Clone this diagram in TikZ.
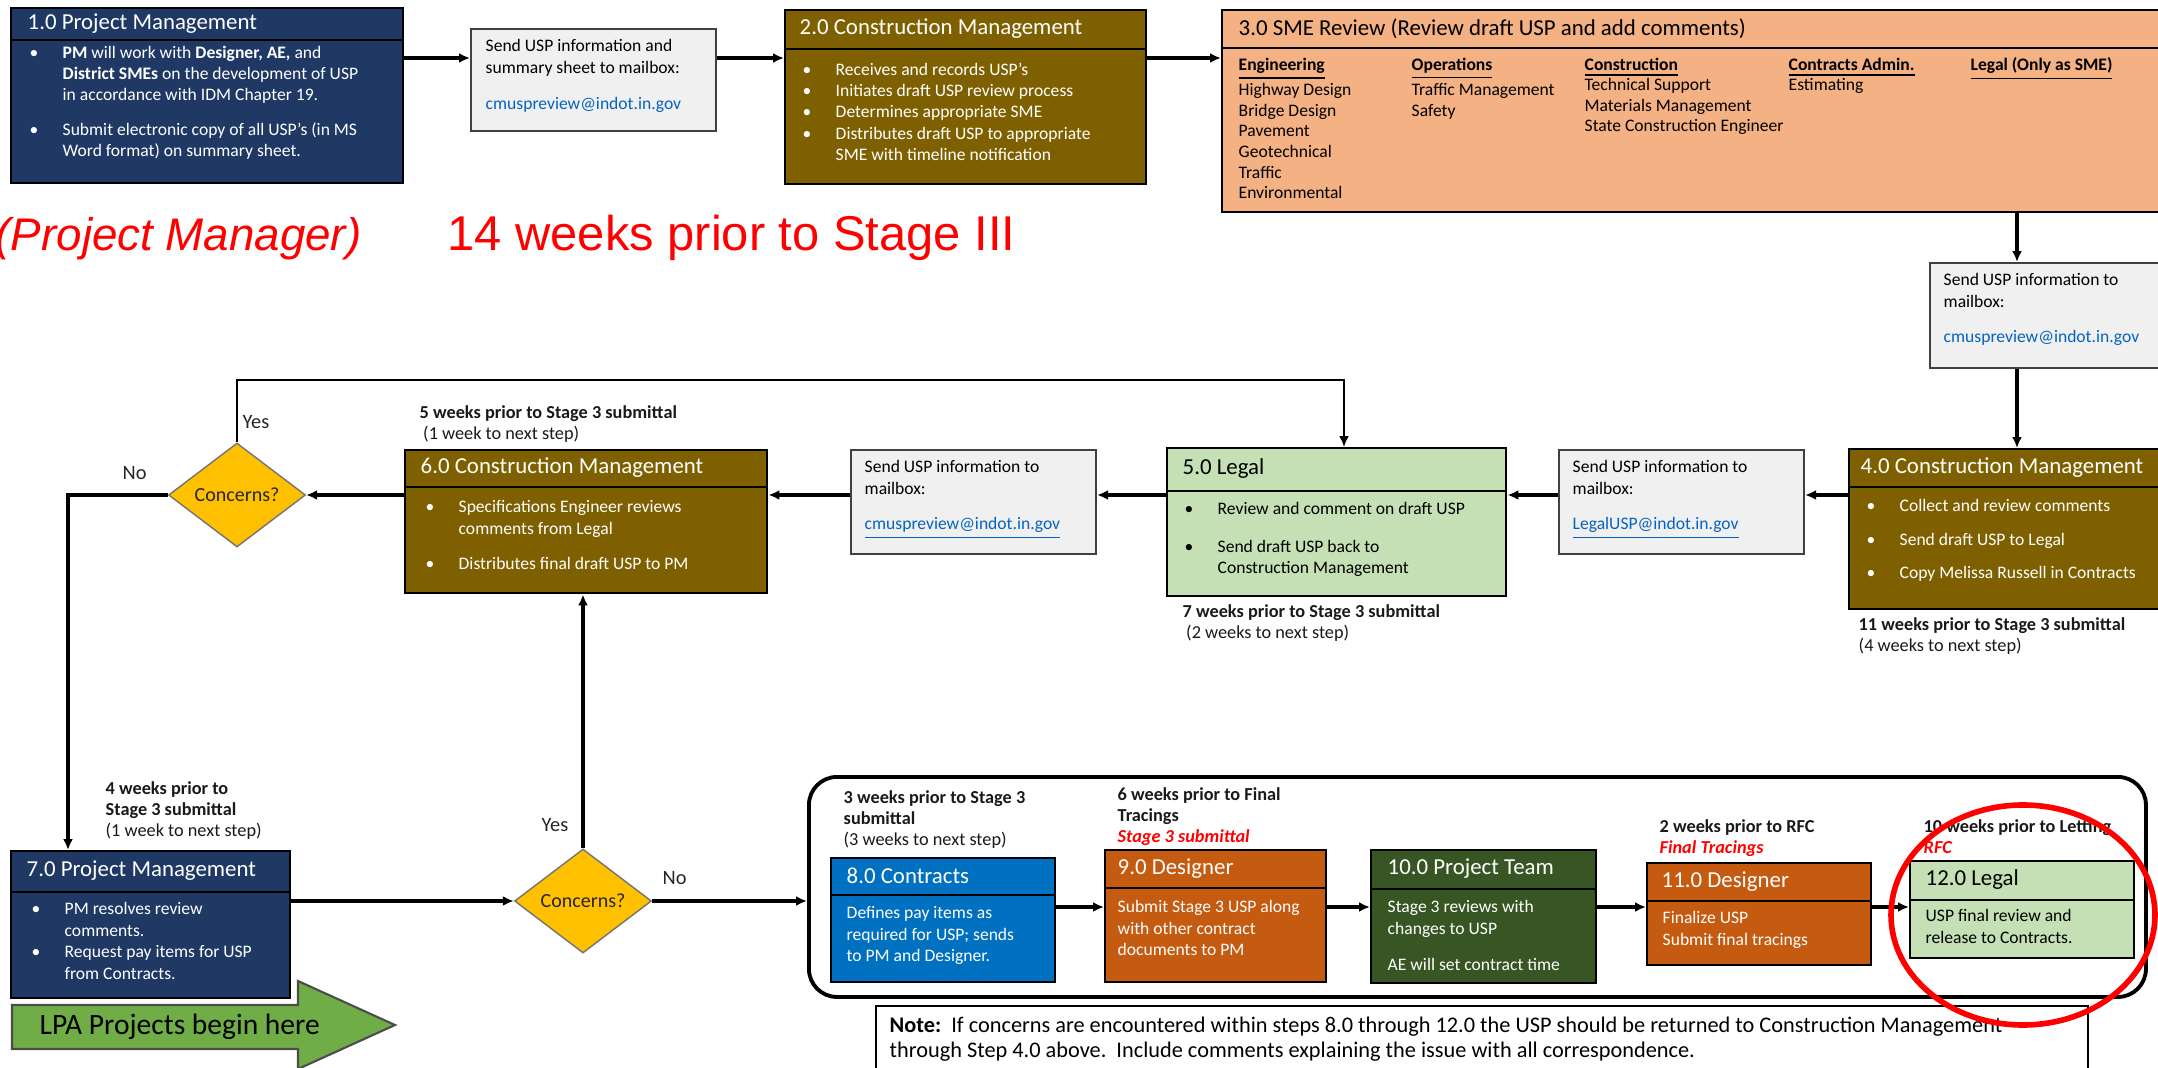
\documentclass[tikz,border=0pt]{standalone}
\usepackage{fontspec}
\setmainfont{Carlito}
\newfontfamily\redfont{Liberation Sans}
\usetikzlibrary{positioning,shapes.geometric,arrows.meta}

\definecolor{navy}{HTML}{1F3864}
\definecolor{cmbrown}{HTML}{7F6000}
\definecolor{smesalmon}{HTML}{F4B183}
\definecolor{mailgray}{HTML}{F0F0F0}
\definecolor{legalgreen}{HTML}{C5E0B4}
\definecolor{decyellow}{HTML}{FFC000}
\definecolor{ctrblue}{HTML}{0070C0}
\definecolor{dsgorange}{HTML}{C55A11}
\definecolor{teamgreen}{HTML}{375623}
\definecolor{lpagreen}{HTML}{70AD47}
\definecolor{linkblue}{HTML}{0563C1}

\newcommand{\bitem}{\makebox[0.33cm][l]{\textbullet}}
\newcommand{\bhang}{\hspace*{0.33cm}}

\tikzset{
    stepbox/.style = {draw = black, line width = 0.7pt, anchor = north west, inner sep = 0pt},
    mailbox/.style = {draw = black!75, fill = mailgray, line width = 0.6pt, anchor = north west, inner sep = 0pt},
    stagebox/.style = {draw = black, line width = 1.1pt, rounded corners = 0.28cm, anchor = north west, inner sep = 0pt},
    notebox/.style = {draw = black, line width = 0.6pt, fill = white, anchor = north west, inner sep = 0pt},
    decide/.style = {diamond, aspect = 1.3, fill = decyellow, draw = black!55, line width = 0.4pt,
        minimum width = 1.37cm, minimum height = 1.04cm, inner sep = 0pt,
        font = \fontsize{5.7}{6.5}\selectfont, text = black!85},
    hd/.style = {anchor = west, inner sep = 0pt, font = \fontsize{6.5}{7.5}\selectfont},
    txt/.style = {anchor = north west, inner sep = 0pt, align = left, font = \fontsize{5}{6.1}\selectfont},
    smecol/.style = {txt, font = \fontsize{5}{5.85}\selectfont},
    lead/.style = {anchor = north west, inner sep = 0pt, align = left, font = \fontsize{5.2}{6}\selectfont, text = black!90},
    yesno/.style = {anchor = west, inner sep = 0pt, font = \fontsize{5.8}{7}\selectfont, text = black!85},
    flow/.style = {-{Latex[length = 0.11cm, width = 0.1cm]}, line width = 1pt},
}

\begin{document}
\begin{tikzpicture}
    \useasboundingbox (0, 0) rectangle (21.58, -10.68);
    \clip (0, 0) rectangle (21.58, -10.68);

    \draw
        (0.10, -0.07)  node (pm1)     [stepbox, fill = navy, minimum width = 3.92cm, minimum height = 1.75cm] {}
        (4.70, -0.28)  node (mailA)   [mailbox, minimum width = 2.45cm, minimum height = 1.02cm] {}
        (7.84, -0.09)  node (cm2)     [stepbox, fill = cmbrown, minimum width = 3.61cm, minimum height = 1.74cm] {}
        (12.21, -0.09) node (sme3)    [stepbox, fill = smesalmon, minimum width = 9.60cm, minimum height = 2.02cm] {}
        (19.29, -2.62) node (mailB)   [mailbox, minimum width = 2.50cm, minimum height = 1.05cm] {}
        (18.48, -4.48) node (cm4)     [stepbox, fill = cmbrown, minimum width = 3.30cm, minimum height = 1.60cm] {}
        (15.58, -4.49) node (mailC)   [mailbox, minimum width = 2.45cm, minimum height = 1.04cm] {}
        (11.66, -4.47) node (legal5)  [stepbox, fill = legalgreen, minimum width = 3.39cm, minimum height = 1.48cm] {}
        (8.50, -4.49)  node (mailD)   [mailbox, minimum width = 2.45cm, minimum height = 1.04cm] {}
        (4.04, -4.49)  node (cm6)     [stepbox, fill = cmbrown, minimum width = 3.62cm, minimum height = 1.43cm] {}
        (2.37, -4.95)  node (ask1)    [decide] {Concerns?}
        (0.10, -8.50)  node (pm7)     [stepbox, fill = navy, minimum width = 2.79cm, minimum height = 1.47cm] {}
        (5.83, -9.01)  node (ask2)    [decide] {Concerns?}
        (8.07, -7.75)  node (stage)   [stagebox, minimum width = 13.37cm, minimum height = 2.20cm] {}
        (8.30, -8.57)  node (ctr8)    [stepbox, fill = ctrblue, minimum width = 2.24cm, minimum height = 1.24cm] {}
        (11.04, -8.49) node (dsg9)    [stepbox, fill = dsgorange, minimum width = 2.21cm, minimum height = 1.32cm] {}
        (13.70, -8.49) node (team10)  [stepbox, fill = teamgreen, minimum width = 2.25cm, minimum height = 1.33cm] {}
        (16.46, -8.62) node (dsg11)   [stepbox, fill = dsgorange, minimum width = 2.24cm, minimum height = 1.02cm] {}
        (19.09, -8.60) node (legal12) [stepbox, fill = legalgreen, minimum width = 2.24cm, minimum height = 0.97cm] {}
        (8.75, -10.05) node (note)    [notebox, minimum width = 12.12cm, minimum height = 0.90cm] {}
    ;

    % title bands
    \draw[line width = 0.7pt]
        ([yshift = -0.33cm]pm1.north west)     -- ([yshift = -0.33cm]pm1.north east)
        ([yshift = -0.40cm]cm2.north west)     -- ([yshift = -0.40cm]cm2.north east)
        ([yshift = -0.39cm]sme3.north west)    -- ([yshift = -0.39cm]sme3.north east)
        ([yshift = -0.39cm]cm4.north west)     -- ([yshift = -0.39cm]cm4.north east)
        ([yshift = -0.44cm]legal5.north west)  -- ([yshift = -0.44cm]legal5.north east)
        ([yshift = -0.38cm]cm6.north west)     -- ([yshift = -0.38cm]cm6.north east)
        ([yshift = -0.42cm]pm7.north west)     -- ([yshift = -0.42cm]pm7.north east)
        ([yshift = -0.38cm]ctr8.north west)    -- ([yshift = -0.38cm]ctr8.north east)
        ([yshift = -0.39cm]dsg9.north west)    -- ([yshift = -0.39cm]dsg9.north east)
        ([yshift = -0.40cm]team10.north west)  -- ([yshift = -0.40cm]team10.north east)
        ([yshift = -0.39cm]dsg11.north west)   -- ([yshift = -0.39cm]dsg11.north east)
        ([yshift = -0.40cm]legal12.north west) -- ([yshift = -0.40cm]legal12.north east)
    ;

    \path
        (0.27, -0.235)  node (pm1t)     [hd, text = white] {1.0 Project Management}
        (7.99, -0.29)   node (cm2t)     [hd, text = white] {2.0 Construction Management}
        (12.38, -0.285) node (sme3t)    [hd] {3.0 SME Review (Review draft USP and add comments)}
        (18.60, -4.68)  node (cm4t)     [hd, text = white] {4.0 Construction Management}
        (11.82, -4.69)  node (legal5t)  [hd] {5.0 Legal}
        (4.20, -4.68)   node (cm6t)     [hd, text = white] {6.0 Construction Management}
        (0.26, -8.71)   node (pm7t)     [hd, text = white] {7.0 Project Management}
        (8.46, -8.76)   node (ctr8t)    [hd, text = white] {8.0 Contracts}
        (11.17, -8.685) node (dsg9t)    [hd, text = white] {9.0 Designer}
        (13.87, -8.69)  node (team10t)  [hd, text = white] {10.0 Project Team}
        (16.61, -8.815) node (dsg11t)   [hd, text = white] {11.0 Designer}
        (19.25, -8.80)  node (legal12t) [hd] {12.0 Legal}
    ;

    \path
        (0.29, -0.45) node (pm1b) [txt, text = white]
            {\bitem\textbf{PM} will work with \textbf{Designer, AE,} and\\
             \bhang\textbf{District SMEs} on the development of USP\\
             \bhang in accordance with IDM Chapter 19.\\[3.7pt]
             \bitem Submit electronic copy of all USP's (in MS\\
             \bhang Word format) on summary sheet.}
        (4.85, -0.39) node (mailAb) [txt]
            {Send USP information and\\summary sheet to mailbox:\\[4.3pt]
             \textcolor{linkblue}{cmuspreview@indot.in.gov}}
        (8.02, -0.62) node (cm2b) [txt, text = white]
            {\bitem Receives and records USP's\\
             \bitem Initiates draft USP review process\\
             \bitem Determines appropriate SME\\
             \bitem Distributes draft USP to appropriate\\
             \bhang SME with timeline notification}
        (12.38, -0.57) node (col1) [smecol]
            {\underline{\textbf{Engineering}}\\Highway Design\\Bridge Design\\Pavement\\Geotechnical\\Traffic\\Environmental}
        (14.11, -0.57) node (col2) [smecol]
            {\underline{\textbf{Operations}}\\Traffic Management\\Safety}
        (15.84, -0.57) node (col3) [smecol]
            {\underline{\textbf{Construction}}\\Technical Support\\Materials Management\\State Construction Engineer}
        (17.88, -0.57) node (col4) [smecol]
            {\underline{\textbf{Contracts Admin.}}\\Estimating}
        (19.70, -0.57) node (col5) [smecol]
            {\underline{\textbf{Legal (Only as SME)}}}
        (19.43, -2.73) node (mailBb) [txt]
            {Send USP information to\\mailbox:\\[4pt]
             \textcolor{linkblue}{cmuspreview@indot.in.gov}}
        (18.66, -4.99) node (cm4b) [txt, text = white]
            {\bitem Collect and review comments\\[3.4pt]
             \bitem Send draft USP to Legal\\[3.4pt]
             \bitem Copy Melissa Russell in Contracts}
        (15.72, -4.60) node (mailCb) [txt]
            {Send USP information to\\mailbox:\\[4pt]
             \textcolor{linkblue}{\underline{LegalUSP@indot.in.gov}}}
        (11.84, -5.02) node (legal5b) [txt]
            {\bitem Review and comment on draft USP\\[4.5pt]
             \bitem Send draft USP back to\\
             \bhang Construction Management}
        (8.64, -4.60) node (mailDb) [txt]
            {Send USP information to\\mailbox:\\[4pt]
             \textcolor{linkblue}{\underline{cmuspreview@indot.in.gov}}}
        (4.25, -5.00) node (cm6b) [txt, text = white]
            {\bitem Specifications Engineer reviews\\
             \bhang comments from Legal\\[4pt]
             \bitem Distributes final draft USP to PM}
        (0.31, -9.02) node (pm7b) [txt, text = white]
            {\bitem PM resolves review\\
             \bhang comments.\\
             \bitem Request pay items for USP\\
             \bhang from Contracts.}
        (8.46, -9.06) node (ctr8b) [txt, text = white]
            {Defines pay items as\\required for USP; sends\\to PM and Designer.}
        (11.17, -9.00) node (dsg9b) [txt, text = white]
            {Submit Stage 3 USP along\\with other contract\\documents to PM}
        (13.87, -9.00) node (team10b) [txt, text = white]
            {Stage 3 reviews with\\changes to USP\\[4.3pt]AE will set contract time}
        (16.62, -9.11) node (dsg11b) [txt, text = white]
            {Finalize USP\\Submit final tracings}
        (19.25, -9.09) node (legal12b) [txt]
            {USP final review and\\release to Contracts.}
    ;

    % timing notes
    \path
        (4.19, -4.05)   node (when6)  [lead] {\textbf{5 weeks prior to Stage 3 submittal}\\\hspace*{1pt}(1 week to next step)}
        (11.82, -6.04)  node (when5)  [lead] {\textbf{7 weeks prior to Stage 3 submittal}\\\hspace*{1pt}(2 weeks to next step)}
        (18.58, -6.17)  node (when4)  [lead] {\textbf{11 weeks prior to Stage 3 submittal}\\(4 weeks to next step)}
        (1.05, -7.81)   node (when7)  [lead] {\textbf{4 weeks prior to}\\\textbf{Stage 3 submittal}\\(1 week to next step)}
        (8.43, -7.90)   node (when8)  [lead] {\textbf{3 weeks prior to Stage 3}\\\textbf{submittal}\\(3 weeks to next step)}
        (11.17, -7.87)  node (when9)  [lead] {\textbf{6 weeks prior to Final}\\\textbf{Tracings}\\\textcolor{red}{\textbf{\textit{Stage 3 submittal}}}}
        (16.59, -8.19)  node (when11) [lead] {\textbf{2 weeks prior to RFC}\\\textcolor{red}{\textbf{\textit{Final Tracings}}}}
        (19.23, -8.19)  node (when12) [lead] {\textbf{10 weeks prior to Letting}\\\textcolor{red}{\textbf{\textit{RFC}}}}
        (2.42, -4.22)   node (yes1)   [yesno] {Yes}
        (1.22, -4.73)   node (no1)    [yesno] {No}
        (5.41, -8.25)   node (yes2)   [yesno] {Yes}
        (6.62, -8.78)   node (no2)    [yesno] {No}
        (8.89, -10.16)  node (notet)  [anchor = north west, inner sep = 0pt, align = left, font = \fontsize{6.35}{7.1}\selectfont]
            {\textbf{Note:}\ \ If concerns are encountered within steps 8.0 through 12.0 the USP should be returned to Construction Management\\
             through Step 4.0 above.\ \ Include comments explaining the issue with all correspondence.}
        (-0.05, -2.51)  node (who)    [anchor = base west, inner sep = 0pt, text = red, font = \redfont\itshape\fontsize{13}{15}\selectfont] {(Project Manager)}
        (4.47, -2.51)   node (when)   [anchor = base west, inner sep = 0pt, text = red, font = \redfont\fontsize{13.9}{16}\selectfont] {14 weeks prior to Stage III}
    ;

    % LPA start arrow
    \draw[fill = lpagreen, draw = black!70, line width = 0.6pt]
        (0.12, -10.05) -- (2.98, -10.05) -- (2.98, -9.81) -- (3.95, -10.25)
        -- (2.98, -10.69) -- (2.98, -10.49) -- (0.12, -10.49) -- cycle;
    \node (lpa) [anchor = west, inner sep = 0pt, font = \fontsize{8.4}{10}\selectfont] at (0.39, -10.27) {LPA Projects begin here};

    \coordinate (row1) at (0, -0.58);
    \coordinate (row2) at (0, -4.95);
    \coordinate (row3) at (0, -9.01);
    \coordinate (row4) at (0, -9.07);
    \coordinate (col) at (20.17, 0);
    \coordinate (yesturn) at (13.44, -3.80);
    \coordinate (nodrop) at (0.68, 0);

    \draw[flow] (pm1.east |- row1) -- (mailA.west |- row1);
    \draw[flow] (mailA.east |- row1) -- (cm2.west |- row1);
    \draw[flow] (cm2.east |- row1) -- (sme3.west |- row1);
    \draw[flow] (sme3.south -| col) -- (mailB.north -| col);
    \draw[flow] (mailB.south -| col) -- (cm4.north -| col);
    \draw[flow] (cm4.west |- row2) -- (mailC.east |- row2);
    \draw[flow] (mailC.west |- row2) -- (legal5.east |- row2);
    \draw[flow] (legal5.west |- row2) -- (mailD.east |- row2);
    \draw[flow] (mailD.west |- row2) -- (cm6.east |- row2);
    \draw[flow] (cm6.west |- row2) -- (ask1.east);
    \draw[flow, line width = 0.6pt] (ask1.north) |- (yesturn) -- (yesturn |- legal5.north);
    \draw[flow] (ask1.west) -| (nodrop |- pm7.north);
    \draw[flow] (pm7.east |- row3) -- (ask2.west);
    \draw[flow] (ask2.north) -- (ask2.north |- cm6.south);
    \draw[flow] (ask2.east) -- (stage.west |- ask2.east);
    \draw[flow] (ctr8.east |- row4) -- (dsg9.west |- row4);
    \draw[flow] (dsg9.east |- row4) -- (team10.west |- row4);
    \draw[flow] (team10.east |- row4) -- (dsg11.west |- row4);
    \draw[flow] (dsg11.east |- row4) -- (legal12.west |- row4);

    \draw[red, line width = 1.6pt] (20.23, -9.15) ellipse [x radius = 1.32, y radius = 1.10];
\end{tikzpicture}
\end{document}
